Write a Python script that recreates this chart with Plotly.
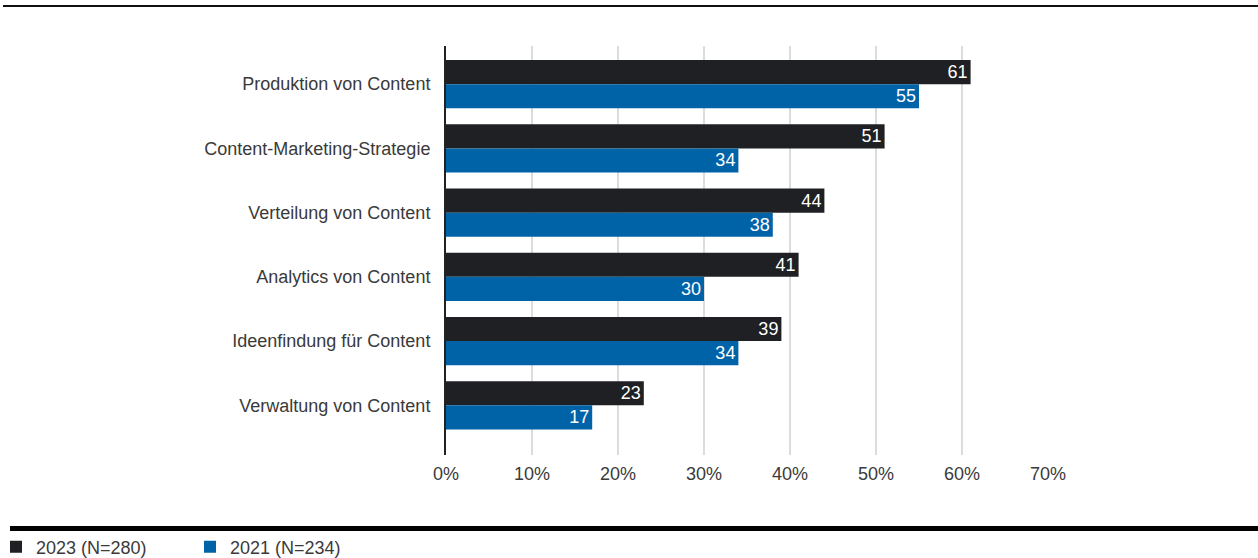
import plotly.graph_objects as go

categories = [
    "Produktion von Content",
    "Content-Marketing-Strategie",
    "Verteilung von Content",
    "Analytics von Content",
    "Ideenfindung für Content",
    "Verwaltung von Content",
]
values_2023 = [61, 51, 44, 41, 39, 23]
values_2021 = [55, 34, 38, 30, 34, 17]
series_names = ["2023 (N=280)", "2021 (N=234)"]
tick_vals = [0, 10, 20, 30, 40, 50, 60, 70]
tick_text = ["0%", "10%", "20%", "30%", "40%", "50%", "60%", "70%"]

DARK = "#1f2023"
BLUE = "#0063a8"
TEXT = "#3a3a3a"
FONT = "Liberation Sans, Arial, sans-serif"
FS = 18

fig = go.Figure()
for name, vals, color in [(series_names[0], values_2023, DARK),
                          (series_names[1], values_2021, BLUE)]:
    fig.add_trace(go.Bar(
        y=categories, x=vals, name=name, orientation="h",
        marker=dict(color=color, line=dict(width=0)),
        text=[str(v) for v in vals], textposition="inside",
        insidetextanchor="end", textangle=0, constraintext="none",
        textfont=dict(color="white", size=FS, family=FONT),
        cliponaxis=False,
    ))

W, H = 1258, 558
L, R, T, B = 446, 1048, 46, 455
pw, ph = R - L, B - T

def px_x(p):
    return (p - L) / pw

def px_y(p):
    return (B - p) / ph

fig.update_layout(
    width=W, height=H,
    margin=dict(l=L, r=W - R, t=T, b=H - B, autoexpand=False),
    paper_bgcolor="white", plot_bgcolor="white",
    barmode="group", bargap=0.25, bargroupgap=0,
    font=dict(family=FONT, size=FS, color=TEXT),
    xaxis=dict(
        range=[0, 70], tickvals=tick_vals, ticktext=tick_text,
        showgrid=True, gridcolor="#dcdcdc", gridwidth=2,
        zeroline=False, showline=False, ticks="",
        ticklabelstandoff=6, automargin=False,
        tickfont=dict(size=FS, color=TEXT),
    ),
    yaxis=dict(
        range=[5.773, -0.594],
        showgrid=False, zeroline=False,
        showline=True, linecolor="#222", linewidth=2,
        ticks="", ticklabelstandoff=10, automargin=False,
        tickfont=dict(size=FS, color=TEXT),
    ),
    showlegend=True,
    legend=dict(
        orientation="h", x=px_x(-4), xanchor="left",
        y=px_y(547), yanchor="middle",
        entrywidth=149, entrywidthmode="pixels",
        traceorder="normal",
        font=dict(size=FS, color=TEXT),
        bgcolor="rgba(0,0,0,0)",
    ),
    shapes=[
        dict(type="line", xref="paper", yref="paper",
             x0=px_x(3), x1=px_x(1258), y0=px_y(6), y1=px_y(6),
             line=dict(color="#111", width=2)),
        dict(type="line", xref="paper", yref="paper",
             x0=px_x(10), x1=px_x(1258), y0=px_y(528.5), y1=px_y(528.5),
             line=dict(color="#000", width=5)),
    ],
)

fig.write_html("out.html")
